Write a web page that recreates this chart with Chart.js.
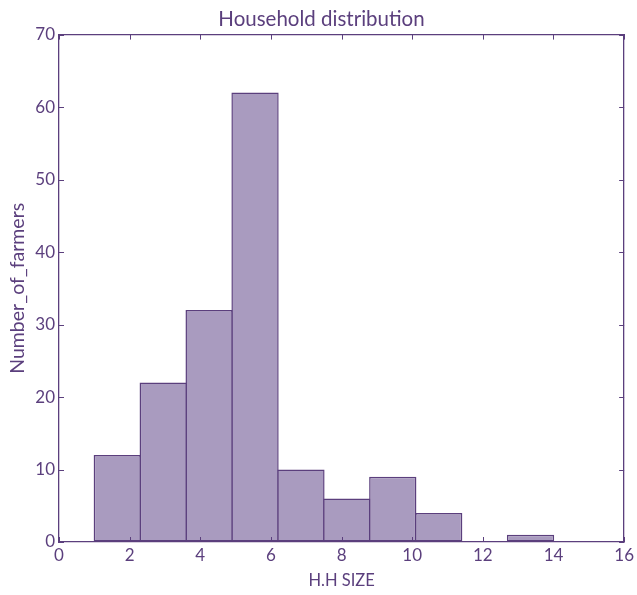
<!DOCTYPE html>
<html>
<head>
<meta charset="utf-8">
<script src="https://cdn.jsdelivr.net/npm/chart.js@4.4.0/dist/chart.umd.min.js"></script>
<style>
  html, body { margin: 0; padding: 0; background: #fff; }
  #wrap { width: 637px; height: 595px; }
</style>
</head>
<body>
<div id="wrap"><canvas id="myChart" width="637" height="595"></canvas></div>
<script>
// histogram bins (edges) and counts
const binEdges = [1, 2.3, 3.6, 4.9, 6.2, 7.5, 8.8, 10.1, 11.4, 12.7, 14];
const counts = [12, 22, 32, 62, 10, 6, 9, 4, 0, 1];
const xTicks = [0, 2, 4, 6, 8, 10, 12, 14, 16];
const yTicks = [0, 10, 20, 30, 40, 50, 60, 70];

const purple = '#5b3f7d';
const fill = '#a99bbf';

const bars = counts.map((c, i) => ({ x: (binEdges[i] + binEdges[i + 1]) / 2, y: c }))
  .filter(p => p.y > 0);

// matplotlib style inward ticks on all four sides
const inwardTicks = {
  id: 'inwardTicks',
  afterDraw(chart) {
    const ctx = chart.ctx;
    const a = chart.chartArea;
    const xs = chart.scales.x, ys = chart.scales.y;
    ctx.save();
    ctx.strokeStyle = purple;
    ctx.lineWidth = 1;
    xTicks.forEach(v => {
      const px = Math.round(xs.getPixelForValue(v)) + 0.5;
      ctx.beginPath();
      ctx.moveTo(px, a.bottom); ctx.lineTo(px, a.bottom - 5);
      ctx.moveTo(px, a.top); ctx.lineTo(px, a.top + 5);
      ctx.stroke();
    });
    yTicks.forEach(v => {
      const py = Math.round(ys.getPixelForValue(v)) + 0.5;
      ctx.beginPath();
      ctx.moveTo(a.left, py); ctx.lineTo(a.left + 5, py);
      ctx.moveTo(a.right, py); ctx.lineTo(a.right - 5, py);
      ctx.stroke();
    });
    ctx.restore();
  }
};

Chart.defaults.font.family = 'Lato, "DejaVu Sans", sans-serif';
Chart.defaults.color = purple;

new Chart(document.getElementById('myChart'), {
  type: 'bar',
  data: {
    datasets: [{
      label: 'Number_of_farmers',
      data: bars,
      backgroundColor: fill,
      borderColor: purple,
      borderWidth: 1.5,
      borderSkipped: false,
      barPercentage: 1.03,
      categoryPercentage: 1
    }]
  },
  options: {
    responsive: false,
    animation: false,
    layout: { padding: { left: 6 } },
    plugins: {
      legend: { display: false },
      tooltip: { enabled: false },
      title: {
        display: true,
        text: 'Household distribution',
        color: purple,
        font: { size: 20.5, weight: 'normal' },
        padding: { top: 7, bottom: 2 }
      }
    },
    scales: {
      x: {
        type: 'linear',
        position: 'bottom',
        min: 0, max: 16,
        offset: false,
        afterBuildTicks: s => { s.ticks = xTicks.map(v => ({ value: v })); },
        afterFit: s => { s.height = 53; },
        grid: { drawOnChartArea: false, drawTicks: false, offset: false },
        border: { color: purple, width: 1.3 },
        ticks: { color: purple, font: { size: 17 }, padding: 3, maxRotation: 0 },
        title: { display: true, text: 'H.H SIZE', color: purple, font: { size: 16.5 }, padding: { top: 5 } }
      },
      x2: {
        type: 'linear',
        position: 'top',
        min: 0, max: 16,
        afterFit: s => { s.height = 1; },
        grid: { drawOnChartArea: false, drawTicks: false },
        border: { color: purple, width: 1.3 },
        ticks: { display: false }
      },
      y: {
        type: 'linear',
        position: 'left',
        min: 0, max: 70,
        afterBuildTicks: s => { s.ticks = yTicks.map(v => ({ value: v })); },
        afterFit: s => { s.width = 53; },
        grid: { drawOnChartArea: false, drawTicks: false },
        border: { color: purple, width: 1.3 },
        ticks: { color: purple, font: { size: 17 }, padding: 4 },
        title: { display: true, text: 'Number_of_farmers', color: purple, font: { size: 19.5 }, padding: 0 }
      },
      y2: {
        type: 'linear',
        position: 'right',
        min: 0, max: 70,
        afterFit: s => { s.width = 4; },
        grid: { drawOnChartArea: false, drawTicks: false },
        border: { color: purple, width: 1.3 },
        ticks: { display: false }
      }
    }
  },
  plugins: [inwardTicks]
});
</script>
</body>
</html>
